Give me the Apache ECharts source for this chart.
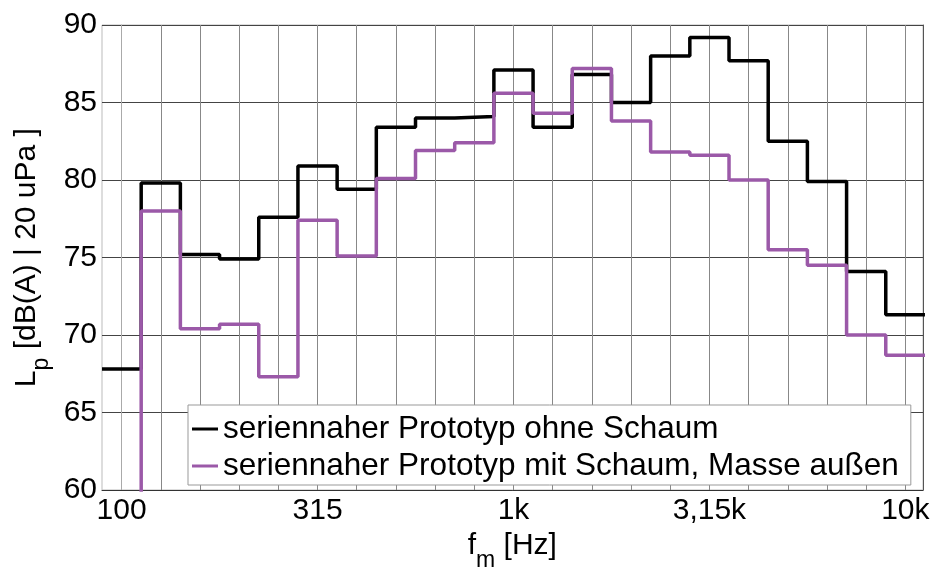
<!DOCTYPE html>
<html>
<head>
<meta charset="utf-8">
<script src="https://cdn.jsdelivr.net/npm/echarts@6/dist/echarts.min.js"></script>
<style>
  html, body { margin: 0; padding: 0; background: #fff; }
  #chart { width: 935px; height: 568px; }
</style>
</head>
<body>
<div id="chart"></div>
<script>
// Terzbaender 100 Hz .. 10 kHz
var bands = ['100', '125', '160', '200', '250', '315', '400', '500', '630', '800',
  '1k', '1,25k', '1,6k', '2k', '2,5k', '3,15k', '4k', '5k', '6,3k', '8k', '10k'];
// beschriftete Baender
var labelBands = [0, 5, 10, 15, 20];
var yTicks = [60, 90, 5]; // min, max, Schritt

var seriesNames = ['seriennaher Prototyp ohne Schaum', 'seriennaher Prototyp mit Schaum, Masse außen'];
var ohneSchaum = [67.8, 79.8, 75.2, 74.9, 77.6, 80.9, 79.4, 83.4, 84.0, 84.1,
  87.1, 83.4, 86.8, 85.0, 88.0, 89.2, 87.7, 82.5, 79.9, 74.1, 71.3];
// erstes Band liegt unterhalb der Skala
var mitSchaum = [50.0, 78.0, 70.4, 70.7, 67.3, 77.4, 75.1, 80.1, 81.9, 82.4,
  85.6, 84.3, 87.2, 83.8, 81.8, 81.6, 80.0, 75.5, 74.5, 70.0, 68.7];

var FONT = 'Liberation Sans';

// Stufen: jeder Wert gilt ueber die ganze Terzbreite
function toSteps(vals) {
  var out = [];
  for (var i = 0; i < vals.length; i++) {
    out.push([i - 0.5, vals[i]]);
  }
  out.push([vals.length - 0.5, vals[vals.length - 1]]);
  return out;
}

var tickIdx = [];
for (var i = 0; i < bands.length; i++) tickIdx.push(i);

var myChart = echarts.init(document.getElementById('chart'));
var option = {
  animation: false,
  backgroundColor: '#fff',
  grid: {
    left: 102, right: 12, top: 25, bottom: 78,
    show: true, borderColor: '#bbb', borderWidth: 1,
    outerBoundsMode: 'none'
  },
  legend: {
    left: 188, top: 405,
    orient: 'vertical',
    backgroundColor: '#fff',
    borderColor: '#999',
    borderWidth: 1,
    borderRadius: 0,
    padding: [8, 12, 3, 4],
    itemGap: 5,
    itemWidth: 26,
    itemHeight: 3,
    icon: 'rect',
    textStyle: { fontFamily: FONT, fontSize: 31.5, color: '#000' },
    data: seriesNames
  },
  xAxis: {
    type: 'value',
    min: -0.5,
    max: 20.45,
    name: '{m|f}{s|m}{m| [Hz]}{sp| }',
    nameLocation: 'middle',
    nameGap: 40,
    nameTextStyle: {
      fontFamily: FONT, color: '#000',
      rich: {
        m: { fontFamily: FONT, fontSize: 30, lineHeight: 30, verticalAlign: 'top', color: '#000' },
        s: { fontFamily: FONT, fontSize: 23, lineHeight: 22, verticalAlign: 'bottom', color: '#000' },
        sp: { fontSize: 1, lineHeight: 41 }
      }
    },
    axisLine: { show: true, onZero: false, lineStyle: { color: '#333', width: 1 } },
    axisTick: { show: false, customValues: tickIdx },
    axisLabel: {
      customValues: labelBands,
      fontFamily: FONT, fontSize: 30, color: '#000', margin: 6,
      formatter: function (v) { return bands[Math.round(v)]; }
    },
    splitLine: { show: true, lineStyle: { color: '#888', width: 1 } }
  },
  yAxis: [{
    type: 'value',
    min: yTicks[0], max: yTicks[1], interval: yTicks[2],
    name: '{m|L}{s|p}{m| [dB(A) | 20 uPa ]}{sp| }',
    nameLocation: 'middle',
    nameGap: 47,
    nameTextStyle: {
      fontFamily: FONT, color: '#000',
      rich: {
        m: { fontFamily: FONT, fontSize: 30, lineHeight: 30, verticalAlign: 'top', color: '#000' },
        s: { fontFamily: FONT, fontSize: 23, lineHeight: 22, verticalAlign: 'bottom', color: '#000' },
        sp: { fontSize: 1, lineHeight: 41 }
      }
    },
    axisLine: { show: true, lineStyle: { color: '#aaa', width: 1 } },
    axisTick: { show: false },
    axisLabel: { fontFamily: FONT, fontSize: 30, color: '#000', margin: 5 },
    splitLine: { show: true, lineStyle: { color: '#444', width: 1 } }
  }, {
    type: 'value', position: 'right',
    min: yTicks[0], max: yTicks[1], interval: yTicks[2],
    axisLine: { show: true, lineStyle: { color: '#555', width: 1 } },
    axisTick: { show: false }, axisLabel: { show: false }, splitLine: { show: false }
  }],
  series: [
    {
      name: seriesNames[0], type: 'line', step: 'end', symbol: 'none',
      data: toSteps(ohneSchaum),
      lineStyle: { color: '#000', width: 3.5 },
      itemStyle: { color: '#000' }
    },
    {
      name: seriesNames[1], type: 'line', step: 'end', symbol: 'none',
      data: toSteps(mitSchaum),
      lineStyle: { color: '#9b59a8', width: 3.5 },
      itemStyle: { color: '#9b59a8' }
    }
  ]
};
myChart.setOption(option);
</script>
</body>
</html>
